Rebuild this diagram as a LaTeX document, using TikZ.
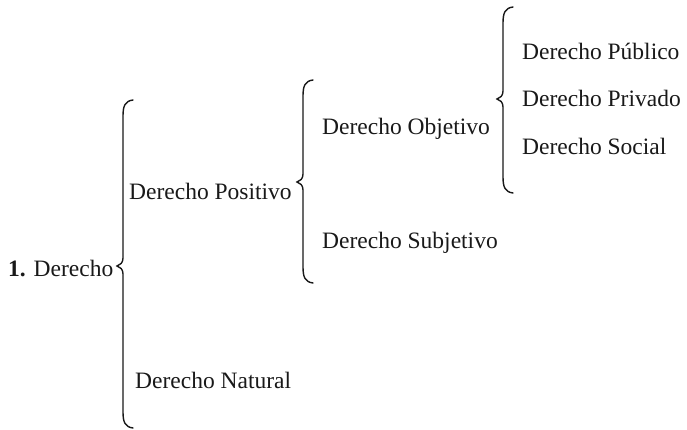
\documentclass[tikz,border=0pt]{standalone}
\usepackage{fontspec}
\setmainfont{Liberation Serif}
\newcommand\mybrace[4]{% x, top, mid, bottom
  \draw[bracestyle] ({#1+10},#2) .. controls ({#1+2},{#2+1}) and (#1,{#2+6}) .. (#1,{#2+16})
    -- (#1,{#3-8}) .. controls (#1,{#3-3}) and ({#1-3},{#3-1}) .. ({#1-6},#3)
    .. controls ({#1-3},{#3+1}) and (#1,{#3+3}) .. (#1,{#3+8})
    -- (#1,{#4-16}) .. controls (#1,{#4-6}) and ({#1+2},{#4-1}) .. ({#1+10},#4);}
\begin{document}
\begin{tikzpicture}[x=1pt,y=-1pt,
  lbl/.style={anchor=base west,inner sep=0pt,text=black!90,font=\fontsize{23.5}{28}\selectfont},
  bracestyle/.style={draw=black!90,line width=1.4pt,line cap=round}]
\useasboundingbox (0,0) rectangle (687,430);
\node[lbl] (der) at (8,276) {\textbf{1.} Derecho};
\node[lbl] (pos) at (129,200) {Derecho Positivo};
\node[lbl] (nat) at (135,388) {Derecho Natural};
\node[lbl] (obj) at (322,135) {Derecho Objetivo};
\node[lbl] (sub) at (322,248) {Derecho Subjetivo};
\node[lbl] (pub) at (522,60) {Derecho Público};
\node[lbl] (pri) at (522,107) {Derecho Privado};
\node[lbl] (soc) at (522,155) {Derecho Social};
\mybrace{123}{100}{266}{428}
\mybrace{303}{80}{182}{283}
\mybrace{503}{7}{99}{193}
\end{tikzpicture}
\end{document}
